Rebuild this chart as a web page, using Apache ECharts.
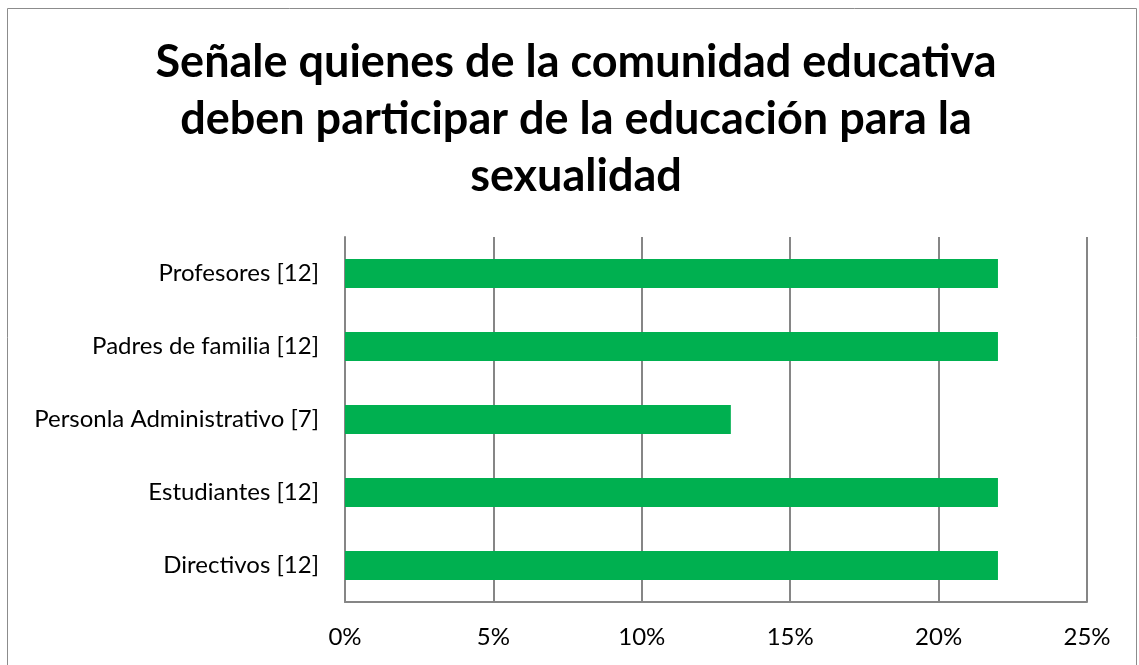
<!DOCTYPE html>
<html>
<head>
<meta charset="utf-8">
<script src="https://cdn.jsdelivr.net/npm/echarts@6/dist/echarts.min.js"></script>
<style>
  html, body { margin: 0; padding: 0; background: #fff; }
  #chart { width: 1139px; height: 665px; }
</style>
</head>
<body>
<div id="chart"></div>
<script>
var myChart = echarts.init(document.getElementById('chart'));

// categorias (de abajo hacia arriba, como en el eje)
var categories = ['Directivos [12]', 'Estudiantes [12]', 'Personla Administrativo [7]', 'Padres de familia [12]', 'Profesores [12]'];
// porcentajes
var values = [22, 22, 13, 22, 22];
var tickMax = 25;
var tickStep = 5;

var option = {
    animation: false,
    title: {
        text: 'Señale quienes de la comunidad educativa\ndeben participar de la educación para la\nsexualidad',
        left: 571,
        top: 29,
        textAlign: 'center',
        textStyle: {
            fontFamily: 'Lato',
            fontWeight: 'bold',
            fontSize: 45,
            lineHeight: 57,
            color: '#000'
        }
    },
    graphic: [{
        type: 'rect',
        shape: { x: 7.5, y: 8.5, width: 1129, height: 670 },
        style: { fill: 'none', stroke: '#8c8c8c', lineWidth: 1 },
        silent: true
    }],
    grid: {
        left: 345,
        right: 52,
        top: 237,
        bottom: 63
    },
    xAxis: {
        type: 'value',
        min: 0,
        max: tickMax,
        interval: tickStep,
        axisLine: { show: true, lineStyle: { color: '#868686', width: 2 } },
        axisTick: { show: false },
        splitLine: { show: true, lineStyle: { color: '#868686', width: 2 } },
        axisLabel: {
            formatter: '{value}%',
            fontFamily: 'Lato',
            fontSize: 24,
            color: '#000',
            margin: 23
        }
    },
    yAxis: {
        type: 'category',
        data: categories,
        axisLine: { show: true, lineStyle: { color: '#868686', width: 2 } },
        axisTick: { show: false },
        axisLabel: {
            fontFamily: 'Lato',
            fontSize: 24,
            color: '#000',
            margin: 26
        }
    },
    series: [{
        type: 'bar',
        data: values,
        barWidth: 29,
        itemStyle: { color: '#00b050' }
    }]
};
myChart.setOption(option);
</script>
</body>
</html>
